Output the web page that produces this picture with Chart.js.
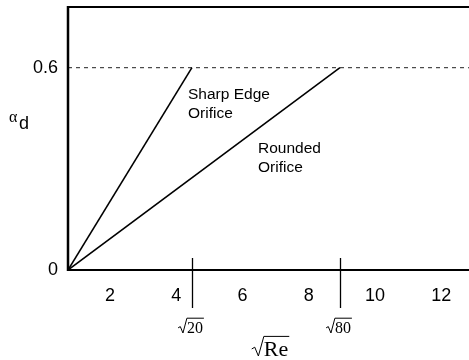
<!DOCTYPE html>
<html>
<head>
<meta charset="utf-8">
<script src="https://cdn.jsdelivr.net/npm/chart.js@4/dist/chart.umd.min.js"></script>
<style>
  html, body { margin: 0; padding: 0; background: #fff; }
  #wrap { width: 469px; height: 360px; }
</style>
</head>
<body>
<div id="wrap"><canvas id="c" width="469" height="360"></canvas></div>
<script>
// Discharge coefficient alpha_d against sqrt(Re): linear rise, then constant 0.6
const xStart = 0.73;
const xEnd = 12.84;
const yTop = 0.78;
const alphaMax = 0.6;
const sharpX = [xStart, Math.sqrt(20)];
const sharpY = [0, alphaMax];
const roundedX = [xStart, Math.sqrt(80)];
const roundedY = [0, alphaMax];
const plateauX = [xStart, xEnd];
const plateauY = [alphaMax, alphaMax];
const xTickValues = [2, 4, 6, 8, 10, 12];
const yTickValues = [0, 0.6];
const markedX = [Math.sqrt(20), Math.sqrt(80)];
const markedLabels = ['20', '80'];

const pts = (xs, ys) => xs.map((x, i) => ({ x, y: ys[i] }));
const sans = '"Liberation Sans", Arial, sans-serif';
const serif = '"Liberation Serif", "Times New Roman", serif';

const decorations = {
  id: 'decorations',
  afterDraw(chart) {
    const { ctx, chartArea: a, scales: { x } } = chart;
    ctx.save();
    ctx.strokeStyle = '#000';
    ctx.fillStyle = '#000';
    // frame: left, top and bottom edges
    ctx.lineWidth = 2.5;
    ctx.beginPath();
    ctx.moveTo(a.left, a.top - 1);
    ctx.lineTo(a.left, a.bottom + 1);
    ctx.stroke();
    ctx.lineWidth = 2;
    ctx.beginPath();
    ctx.moveTo(a.left, a.top);
    ctx.lineTo(a.right, a.top);
    ctx.moveTo(a.left, a.bottom);
    ctx.lineTo(a.right, a.bottom);
    ctx.stroke();

    // long ticks at sqrt(20) and sqrt(80)
    ctx.lineWidth = 1.3;
    markedX.forEach((v, i) => {
      const px = Math.round(x.getPixelForValue(v)) + 0.5;
      ctx.beginPath();
      ctx.moveTo(px, a.bottom - 12);
      ctx.lineTo(px, a.bottom + 38);
      ctx.stroke();
      drawRoot(ctx, px - 2, 333, markedLabels[i], 16);
    });

    // axis titles
    drawRoot(ctx, 270, 356, 'Re', 22);
    ctx.textAlign = 'left';
    ctx.textBaseline = 'alphabetic';
    ctx.font = '16px ' + serif;
    ctx.fillText('\u03B1', 9, 122);
    ctx.font = '18px ' + sans;
    ctx.fillText('d', 19, 129);

    // curve annotations
    ctx.font = '15.5px ' + sans;
    ctx.fillText('Sharp Edge', 188, 99);
    ctx.fillText('Orifice', 188, 118);
    ctx.fillText('Rounded', 258, 153);
    ctx.fillText('Orifice', 258, 172);
    ctx.restore();
  }
};

// radical sign with overline, centred at cx, baseline at by
function drawRoot(ctx, cx, by, txt, size) {
  ctx.save();
  ctx.font = size + 'px ' + serif;
  ctx.textBaseline = 'alphabetic';
  ctx.textAlign = 'left';
  const w = ctx.measureText(txt).width;
  const rw = size * 0.55;
  const total = rw + w;
  const x0 = cx - total / 2;
  const h = size * 0.8;
  ctx.lineWidth = 1;
  ctx.beginPath();
  ctx.moveTo(x0, by - h * 0.4);
  ctx.lineTo(x0 + rw * 0.25, by - h * 0.5);
  ctx.lineTo(x0 + rw * 0.55, by);
  ctx.lineTo(x0 + rw, by - h - 2);
  ctx.lineTo(x0 + rw + w + 1, by - h - 2);
  ctx.stroke();
  ctx.fillText(txt, x0 + rw, by);
  ctx.restore();
}

const noPad = s => { s.paddingTop = 0; s.paddingBottom = 0; s.paddingLeft = 0; s.paddingRight = 0; };

new Chart(document.getElementById('c'), {
  type: 'scatter',
  data: {
    datasets: [
      { data: pts(sharpX, sharpY), showLine: true, borderColor: '#000', borderWidth: 1.6, pointRadius: 0 },
      { data: pts(roundedX, roundedY), showLine: true, borderColor: '#000', borderWidth: 1.6, pointRadius: 0 },
      { data: pts(plateauX, plateauY), showLine: true, borderColor: '#222', borderWidth: 1, borderDash: [4, 4], pointRadius: 0 }
    ]
  },
  options: {
    responsive: false,
    animation: false,
    devicePixelRatio: 1,
    layout: { padding: { top: 7, right: 0, left: 0, bottom: 0 } },
    plugins: { legend: { display: false }, tooltip: { enabled: false } },
    scales: {
      x: {
        type: 'linear',
        min: xStart,
        max: xEnd,
        grid: { display: false, drawTicks: false },
        border: { display: false },
        afterBuildTicks: s => { s.ticks = xTickValues.map(v => ({ value: v })); },
        afterFit: s => { s.height = 90; noPad(s); },
        ticks: {
          color: '#000',
          padding: 15,
          font: { family: sans, size: 18 },
          maxRotation: 0
        }
      },
      y: {
        type: 'linear',
        min: 0,
        max: yTop,
        grid: { display: false, drawTicks: false },
        border: { display: false },
        afterBuildTicks: s => { s.ticks = yTickValues.map(v => ({ value: v })); },
        afterFit: s => { s.width = 68; noPad(s); },
        ticks: {
          color: '#000',
          padding: 10,
          font: { family: sans, size: 18 },
          callback: v => (v === 0 ? '0' : v.toFixed(1))
        }
      }
    }
  },
  plugins: [decorations]
});
</script>
</body>
</html>
